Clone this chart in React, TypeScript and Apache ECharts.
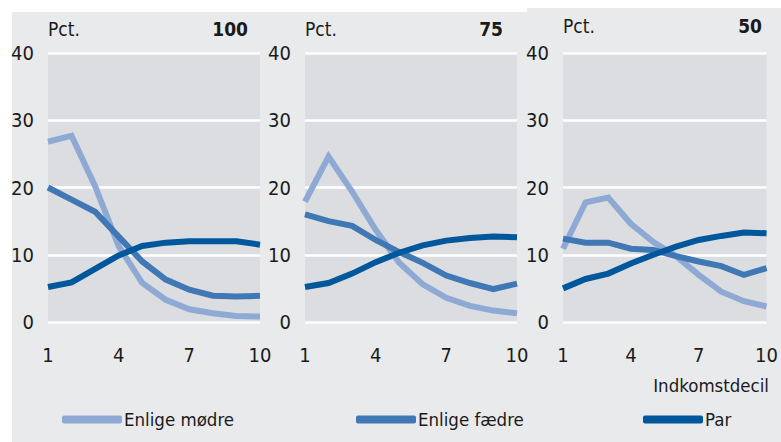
import React, { useEffect, useRef } from "react";
import * as echarts from "echarts";

const deciles = ["1", "2", "3", "4", "5", "6", "7", "8", "9", "10"];
const panelTitles = ["100", "75", "50"];
const seriesNames = ["Enlige mødre", "Enlige fædre", "Par"];
const yTicks = [0, 10, 20, 30, 40];

// Panel "100"
const p100Modre = [26.8, 27.7, 20.2, 11.3, 5.8, 3.3, 1.9, 1.3, 0.9, 0.8];
const p100Faedre = [20.0, 18.2, 16.4, 12.7, 9.0, 6.3, 4.8, 3.9, 3.8, 3.9];
const p100Par = [5.2, 5.9, 7.9, 9.9, 11.3, 11.8, 12.0, 12.0, 12.0, 11.5];
// Panel "75"
const p75Modre = [17.9, 24.6, 19.4, 13.7, 8.8, 5.6, 3.6, 2.4, 1.7, 1.3];
const p75Faedre = [16.0, 15.0, 14.3, 12.2, 10.4, 8.8, 6.9, 5.8, 4.9, 5.7];
const p75Par = [5.2, 5.8, 7.2, 8.9, 10.3, 11.4, 12.1, 12.5, 12.7, 12.6];
// Panel "50"
const p50Modre = [10.9, 17.8, 18.5, 14.6, 11.9, 9.8, 7.0, 4.5, 3.1, 2.3];
const p50Faedre = [12.4, 11.8, 11.8, 10.9, 10.7, 9.8, 9.0, 8.3, 7.0, 8.0];
const p50Par = [5.0, 6.4, 7.2, 8.7, 10.0, 11.2, 12.2, 12.8, 13.3, 13.2];

const panels = [
  [p100Modre, p100Faedre, p100Par],
  [p75Modre, p75Faedre, p75Par],
  [p50Modre, p50Faedre, p50Par],
];

const colors = ["#8eaad4", "#3f78b4", "#00579c"];
const FONT = "'Liberation Sans Narrow', 'DejaVu Sans Condensed', 'Open Sans', sans-serif";
const TXT = "#1a1a1a";

export default function App() {
  const ref = useRef<HTMLDivElement>(null);
  useEffect(() => {
    if (!ref.current) return;
    const chart = echarts.init(ref.current, undefined, { renderer: "svg" });
    const gridPos = [
      { left: 48, width: 212 },
      { left: 305, width: 212 },
      { left: 563, width: 210 },
    ];
    const titleRight = [533, 278, 19];
    const pctLeft = [48, 305, 563];

    const grids = gridPos.map((g) => ({
      left: g.left,
      width: g.width,
      top: 53,
      height: 269,
      show: true,
      backgroundColor: "#dcdde0",
      borderWidth: 0,
    }));
    const xAxes = gridPos.map((_, i) => ({
      type: "category",
      gridIndex: i,
      data: deciles,
      boundaryGap: false,
      axisLine: { show: false },
      axisTick: { show: false },
      splitLine: { show: false },
      axisLabel: {
        interval: 2,
        margin: 23,
        fontSize: 20,
        color: TXT,
        fontFamily: FONT,
        showMaxLabel: true,
      },
    }));
    const yAxes = gridPos.map((_, i) => ({
      type: "value",
      gridIndex: i,
      min: yTicks[0],
      max: yTicks[yTicks.length - 1],
      interval: 10,
      axisLine: { show: false },
      axisTick: { show: false },
      splitLine: { show: true, lineStyle: { color: "#ffffff", width: 2.5 } },
      axisLabel: { margin: 14, fontSize: 20, color: TXT, fontFamily: FONT },
    }));
    const series: any[] = [];
    panels.forEach((p, i) => {
      p.forEach((vals, k) => {
        series.push({
          type: "line",
          name: seriesNames[k],
          xAxisIndex: i,
          yAxisIndex: i,
          data: vals,
          symbol: "none",
          lineStyle: { width: 6, color: colors[k], cap: "butt", join: "miter" },
          itemStyle: { color: colors[k] },
          z: 3 + k,
        });
      });
    });
    const titles: any[] = [];
    panelTitles.forEach((t, i) => {
      titles.push({
        text: t,
        right: titleRight[i],
        top: i === 2 ? 16 : 19,
        padding: 0,
        textStyle: { fontSize: 19, fontWeight: "bold", color: TXT, fontFamily: FONT },
      });
      titles.push({
        text: "Pct.",
        left: pctLeft[i],
        top: i === 2 ? 16 : 19,
        padding: 0,
        textStyle: { fontSize: 19, fontWeight: "normal", color: TXT, fontFamily: FONT },
      });
    });
    titles.push({
      text: "Indkomstdecil",
      right: 12,
      top: 376,
      padding: 0,
      textStyle: { fontSize: 18.5, fontWeight: "normal", color: TXT, fontFamily: FONT },
    });
    const legendLeft = [62, 356, 643];
    const legends = seriesNames.map((n, k) => ({
      data: [n],
      left: legendLeft[k],
      top: 410,
      icon: "roundRect",
      itemWidth: 60,
      itemHeight: 8,
      padding: 0,
      selectedMode: false,
      textStyle: { fontSize: 18.5, color: TXT, fontFamily: FONT, padding: [0, 0, 0, -3] },
    }));

    chart.setOption({
      animation: false,
      backgroundColor: "#ffffff",
      graphic: [
        {
          type: "rect",
          z: -10,
          shape: { x: 12, y: 12, width: 516, height: 430 },
          style: { fill: "#e9eaec" },
          silent: true,
        },
        {
          type: "rect",
          z: -10,
          shape: { x: 527, y: 8, width: 254, height: 434 },
          style: { fill: "#e9eaec" },
          silent: true,
        },
      ],
      title: titles,
      legend: legends,
      grid: grids,
      xAxis: xAxes,
      yAxis: yAxes,
      series,
    });
    return () => chart.dispose();
  }, []);
  return (
    <div
      ref={ref}
      style={{ position: "absolute", left: 0, top: 0, width: 781, height: 442 }}
    />
  );
}
